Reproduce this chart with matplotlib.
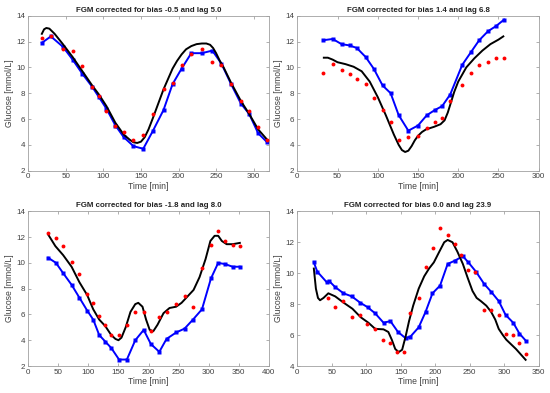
import matplotlib
matplotlib.use("Agg")
import matplotlib.pyplot as plt

plt.rcParams['font.family'] = ['Liberation Sans', 'DejaVu Sans']

# ---------------------------------------------------------------
# panel titles and axis limits

titles = ["FGM corrected for bias -0.5 and lag 5.0",
          "FGM corrected for bias 1.4 and lag 6.8",
          "FGM corrected for bias -1.8 and lag 8.0",
          "FGM corrected for bias 0.0 and lag 23.9"]
xlims = [(0, 320), (0, 300), (0, 400), (0, 350)]
ylims = [(2, 14), (2, 14), (2, 14), (4, 14)]

# ---------------------------------------------------------------
# panel 1

t1 = [18, 30, 46, 59, 72, 85, 94, 104, 116, 127, 140, 153, 166, 180, 192, 204,
      217, 231, 245, 257, 270, 283, 294, 306, 318]
blue1 = [11.9, 12.4, 11.6, 10.6, 9.5, 8.5, 7.7, 6.8, 5.5, 4.6, 3.9, 3.7, 5.1, 6.7,
         8.7, 9.9, 11.1, 11.1, 11.3, 10.3, 8.7, 7.2, 6.4, 4.9, 4.2]
red1 = [12.3, 12.4, 11.4, 11.3, 10.1, 8.5, 7.8, 6.6, 5.5, 5.0, 4.4, 4.8, 6.4, 8.3,
        8.8, 10.2, 11.0, 11.4, 10.4, 10.2, 8.7, 7.4, 6.6, 5.4, 4.4]
tb1 = [18, 21, 24, 28, 35, 46, 59, 72, 85, 94, 104, 116, 127, 135, 140, 145, 150,
       155, 160, 166, 173, 180, 186, 192, 198, 204, 210, 217, 224, 231, 237, 242,
       246, 250, 255, 260, 270, 283, 294, 306, 318]
black1 = [12.6, 12.95, 13.05, 13.0, 12.6, 11.8, 10.8, 9.7, 8.6, 7.9, 7.0, 5.7, 4.8,
          4.4, 4.2, 4.15, 4.25, 4.6, 5.2, 6.1, 7.2, 8.3, 9.1, 9.9, 10.5, 11.0, 11.4,
          11.65, 11.8, 11.85, 11.85, 11.75, 11.5, 11.1, 10.5, 10.0, 8.8, 7.4, 6.4,
          5.2, 4.4]

# ---------------------------------------------------------------
# panel 2

t2 = [32, 44, 55, 65, 74, 85, 95, 106, 116, 126, 138, 150, 161, 171, 180, 190, 205,
      216, 226, 237, 247, 257]
blue2 = [12.1, 12.2, 11.8, 11.7, 11.5, 10.8, 9.9, 8.6, 8.0, 6.3, 5.1, 5.5, 6.3, 6.7,
         7.0, 7.9, 10.2, 11.2, 12.1, 12.8, 13.2, 13.7]
red2 = [9.6, 10.3, 9.8, 9.5, 9.1, 8.7, 7.6, 6.7, 5.8, 4.4, 4.6, 4.7, 5.3, 5.8, 6.1,
        7.4, 8.6, 9.6, 10.2, 10.4, 10.7, 10.7]
tb2 = [33, 38, 44, 50, 60, 70, 80, 90, 100, 110, 120, 126, 130, 134, 138, 142, 146,
       150, 155, 160, 170, 178, 183, 187, 191, 195, 200, 210, 220, 230, 240, 250, 256]
black2 = [10.75, 10.75, 10.6, 10.4, 10.25, 10.05, 9.7, 8.9, 7.7, 6.3, 4.8, 4.0, 3.6,
          3.45, 3.55, 3.9, 4.35, 4.7, 5.0, 5.2, 5.4, 5.6, 5.9, 6.5, 7.3, 8.1, 8.9,
          10.0, 10.7, 11.3, 11.8, 12.15, 12.4]

# ---------------------------------------------------------------
# panel 3

t3 = [33, 46, 58, 72, 85, 98, 108, 118, 128, 138, 151, 164, 178, 192, 204, 218, 230,
      246, 260, 274, 289, 304, 316, 328, 340, 352]
blue3 = [10.4, 10.0, 9.2, 8.3, 7.3, 6.3, 5.6, 4.4, 3.9, 3.4, 2.5, 2.5, 4.0, 4.8, 3.7,
         3.1, 4.1, 4.6, 4.9, 5.6, 6.4, 8.8, 10.0, 9.9, 9.7, 9.7]
red3 = [12.3, 11.9, 11.3, 10.1, 9.1, 7.6, 6.9, 5.9, 5.2, 4.4, 4.4, 5.2, 6.2, 6.2, 4.7,
        5.8, 6.2, 6.8, 7.4, 6.6, 9.6, 11.4, 12.5, 11.7, 11.4, 11.3]
tb3 = [33, 45, 58, 72, 85, 98, 108, 118, 128, 138, 145, 150, 155, 162, 170, 178, 183,
       190, 196, 202, 208, 215, 225, 235, 246, 255, 265, 275, 285, 295, 303, 310,
       316, 322, 330, 340, 352]
black3 = [12.2, 11.3, 10.6, 9.7, 8.5, 7.5, 6.4, 5.6, 5.1, 4.4, 4.1, 4.0, 4.2, 5.0,
          6.2, 6.8, 6.9, 6.6, 5.6, 4.8, 4.7, 5.2, 6.1, 6.5, 6.6, 6.9, 7.4, 7.9, 8.9,
          10.3, 11.7, 12.1, 12.1, 11.7, 11.45, 11.45, 11.55]

# ---------------------------------------------------------------
# panel 4

t4 = [24, 29, 43, 46, 55, 67, 79, 91, 102, 113, 125, 135, 146, 157, 164, 176, 186,
      196, 207, 218, 228, 240, 248, 259, 271, 281, 292, 302, 313, 322, 332]
blue4 = [10.7, 10.1, 9.4, 9.5, 9.1, 8.7, 8.5, 8.1, 7.8, 7.4, 6.8, 6.9, 6.2, 5.8, 5.9,
         6.5, 7.5, 8.7, 9.2, 10.6, 10.8, 11.1, 10.7, 10.1, 9.3, 8.8, 8.2, 7.3, 6.8,
         6.1, 5.6]
tr4 = [45, 55, 67, 79, 91, 101, 113, 124, 135, 145, 155, 164, 176, 186, 197, 207,
       218, 228, 237, 248, 258, 271, 281, 292, 302, 313, 322, 332]
red4 = [8.4, 7.8, 8.2, 7.2, 7.3, 6.7, 6.4, 5.7, 5.5, 4.9, 4.9, 7.4, 8.4, 10.4, 11.6,
        12.9, 12.5, 11.9, 11.2, 10.2, 10.1, 7.6, 7.6, 7.3, 6.1, 6.0, 5.5, 4.8]
tb4 = [24, 27, 30, 33, 38, 45, 55, 67, 80, 92, 103, 113, 125, 132, 137, 142, 147,
       152, 157, 162, 168, 176, 184, 191, 198, 206, 213, 218, 225, 232, 240, 247,
       254, 260, 266, 274, 281, 287, 292, 298, 303, 310, 317, 324, 331]
black4 = [10.3, 9.0, 8.4, 8.25, 8.4, 8.7, 8.5, 8.1, 7.7, 7.15, 6.8, 6.4, 6.37, 6.2,
          5.7, 5.1, 4.9, 5.05, 5.9, 6.9, 7.9, 9.0, 9.8, 10.3, 10.7, 11.4, 12.0, 12.15,
          12.0, 11.4, 10.6, 9.7, 8.85, 8.4, 8.2, 7.9, 7.5, 7.0, 6.4, 6.0, 5.7, 5.4,
          5.1, 4.75, 4.4]

panels = [(t1, blue1, t1, red1, tb1, black1),
          (t2, blue2, t2, red2, tb2, black2),
          (t3, blue3, t3, red3, tb3, black3),
          (t4, blue4, tr4, red4, tb4, black4)]

# ---------------------------------------------------------------
# figure, axes placed like the matlab subplot grid

fig = plt.figure(figsize=(5.5, 3.93), dpi=100)
boxes = [[0.0515, 0.5656, 0.437, 0.3944],
         [0.5405, 0.5656, 0.439, 0.3944],
         [0.0515, 0.0687, 0.437, 0.3936],
         [0.5405, 0.0687, 0.439, 0.3936]]

txt = '#404040'
for i, (tb, bl, tr, rd, tk, bk) in enumerate(panels):
    ax = fig.add_axes(boxes[i])
    ax.plot(tb, bl, color='#0000ff', lw=1.4, marker='s', ms=2.2, mec='none', zorder=2)
    ax.plot(tk, bk, color='black', lw=1.4, zorder=3)
    ax.plot(tr, rd, 'o', color='#ff0000', ms=2.8, mec='none', zorder=4)
    ax.set_xlim(xlims[i])
    ax.set_ylim(ylims[i])
    ax.set_yticks(range(ylims[i][0], 15, 2))
    ax.set_title(titles[i], fontsize=5.7, fontweight='bold', color='#222222', pad=3)
    ax.set_xlabel("Time [min]", fontsize=6.2, color=txt, labelpad=1)
    ax.set_ylabel("Glucose [mmol/L]", fontsize=6.2, color=txt, labelpad=2)
    ax.tick_params(direction='in', length=2.5, width=0.5, labelsize=5.8,
                   colors='#909090', labelcolor=txt, top=True, right=True, pad=2)
    for s in ax.spines.values():
        s.set_color('#a0a0a0')
        s.set_linewidth(0.6)

fig.savefig("out.png", dpi=100)
